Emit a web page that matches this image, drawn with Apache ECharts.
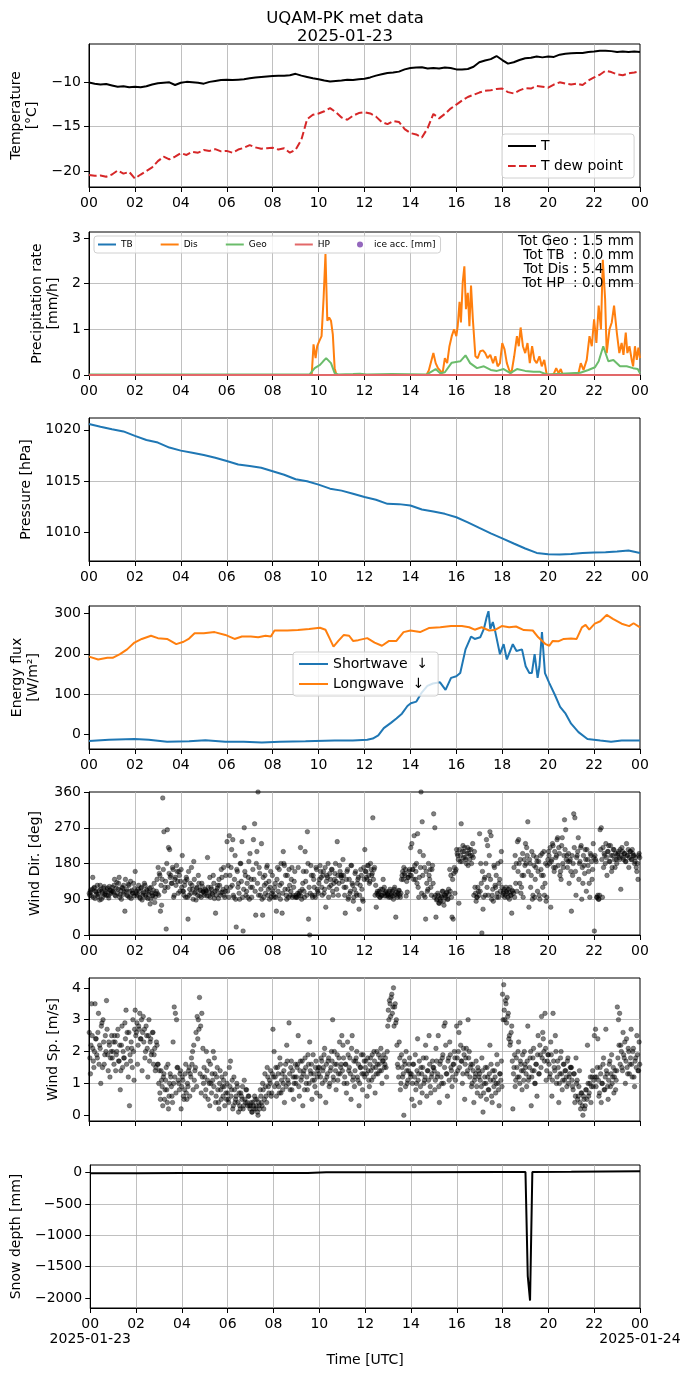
<!DOCTYPE html>
<html>
<head>
<meta charset="utf-8">
<title>UQAM-PK met data</title>
<script src="https://cdn.jsdelivr.net/npm/echarts@6.0.0/dist/echarts.min.js"></script>
<style>
  html, body { margin: 0; padding: 0; background: #fff; }
  #chart { width: 690px; height: 1377px; }
</style>
</head>
<body>
<div id="chart"></div>
<script>
// ---- data ----
var dayLabels = ['2025-01-23', '2025-01-24'];

// temperature every 15 min [°C]
var tempStep = 0.25;
var airTemp = [
  -10.07, -10.2, -10.3, -10.25,
  -10.4, -10.55, -10.5, -10.6,
  -10.55, -10.6, -10.5, -10.3,
  -10.15, -10.1, -10.05, -10.35,
  -10.1, -10.0, -10.05, -10.1,
  -10.2, -10.0, -9.9, -9.8,
  -9.75, -9.8, -9.75, -9.7,
  -9.6, -9.5, -9.45, -9.4,
  -9.35, -9.3, -9.3, -9.25,
  -9.1, -9.3, -9.45, -9.6,
  -9.7, -9.85, -9.95, -9.9,
  -9.85, -9.75, -9.8, -9.7,
  -9.65, -9.5, -9.3, -9.15,
  -9.0, -8.95, -8.85, -8.6,
  -8.45, -8.4, -8.35, -8.5,
  -8.45, -8.5, -8.4, -8.45,
  -8.6, -8.6, -8.55, -8.3,
  -7.8, -7.6, -7.45, -7.1,
  -7.55, -7.95, -7.8, -7.55,
  -7.35, -7.3, -7.15, -7.25,
  -7.15, -7.2, -6.95, -6.85,
  -6.8, -6.75, -6.75, -6.65,
  -6.6, -6.5, -6.5, -6.55,
  -6.65, -6.6, -6.65, -6.6,
  -6.65
];
var dewPoint = [
  -20.45, -20.55, -20.5, -20.65,
  -20.4, -19.95, -20.3, -20.1,
  -20.85, -20.4, -20.0, -19.6,
  -18.9, -18.4, -18.7, -18.4,
  -18.0, -18.2, -17.85, -17.95,
  -17.65, -17.75, -17.55, -17.8,
  -17.75, -17.95, -17.6, -17.4,
  -17.1, -17.35, -17.5, -17.45,
  -17.4, -17.6, -17.45, -17.95,
  -17.6, -16.5, -14.2, -13.7,
  -13.55, -13.3, -12.95, -13.4,
  -14.0, -14.25, -13.8, -13.5,
  -13.4, -13.55, -13.9, -14.5,
  -14.75, -14.4, -14.5, -15.3,
  -15.75, -15.9, -16.25, -15.2,
  -13.6, -14.1, -13.6, -13.0,
  -12.55, -12.1, -11.7, -11.45,
  -11.2, -11.0, -10.95, -10.8,
  -10.75, -11.15, -11.3, -10.95,
  -10.7, -10.75, -10.45, -10.55,
  -10.65, -10.3, -10.05, -10.2,
  -10.3, -10.2, -10.35, -9.85,
  -9.5, -9.2, -8.75, -8.9,
  -9.15, -9.25, -9.05, -8.95,
  -8.8
];

// precipitation rate [hour, mm/h]
var tbRate = [[0, 0], [24, 0]];
var hpRate = [[0, 0], [24, 0]];
var iceAcc = [];
var disRate = [
  [0, 0], [9.7, 0], [9.78, 0.67], [9.87, 0.37], [9.94, 0.63], [10.03, 0.74], [10.13, 0.85],
  [10.22, 1.7], [10.3, 2.65], [10.38, 1.19], [10.46, 1.26], [10.54, 1.19], [10.62, 0.89],
  [10.7, 0.15], [10.78, 0], [14.7, 0], [14.8, 0.1], [15.0, 0.48], [15.1, 0.26], [15.2, 0.15],
  [15.4, 0.04], [15.5, 0.37], [15.6, 0.26], [15.7, 0.63], [15.8, 0.85], [15.9, 1.0], [16.0, 0.85],
  [16.06, 1.07], [16.14, 1.6], [16.2, 1.15], [16.28, 2.04], [16.35, 2.38], [16.42, 1.44],
  [16.5, 1.8], [16.57, 1.07], [16.64, 1.96], [16.72, 1.22], [16.83, 0.41], [16.93, 0.37],
  [17.04, 0.52], [17.16, 0.54], [17.26, 0.48], [17.36, 0.37], [17.48, 0.44], [17.6, 0.26],
  [17.7, 0.41], [17.8, 0.19], [17.9, 0.26], [18.0, 0.7], [18.1, 0.56], [18.2, 0.26], [18.3, 0.11],
  [18.4, 0.04], [18.52, 0.41], [18.64, 0.85], [18.72, 0.63], [18.8, 1.04], [18.9, 0.63],
  [19.0, 0.48], [19.1, 0.7], [19.2, 0.26], [19.3, 0.63], [19.4, 0.33], [19.5, 0.26], [19.62, 0.41],
  [19.72, 0.19], [19.83, 0.33], [19.94, 0], [20.23, 0.01], [20.35, 0.15], [20.45, 0.04],
  [20.55, 0.13], [20.64, 0], [21.32, 0.04], [21.42, 0.26], [21.54, 0.11], [21.68, 0.33],
  [21.8, 0.85], [21.9, 0.63], [22.0, 1.22], [22.1, 0.7], [22.2, 1.52], [22.3, 1.0], [22.38, 2.52],
  [22.48, 1.67], [22.55, 0.48], [22.67, 1.0], [22.77, 1.15], [22.87, 1.52], [22.99, 0.93],
  [23.1, 0.48], [23.2, 0.7], [23.28, 0.44], [23.38, 0.93], [23.45, 0.48], [23.54, 0.63],
  [23.64, 0.33], [23.7, 0.19], [23.78, 0.63], [23.86, 0.33], [23.93, 0.6], [24.0, 0.37]
];
var geoRate = [
  [0, 0.01], [9.6, 0.01], [9.83, 0.15], [10.06, 0.22], [10.2, 0.3], [10.33, 0.37], [10.54, 0.26],
  [10.7, 0.04], [10.86, 0.01], [11.5, 0.02], [11.8, 0.03], [12.1, 0.01], [13.2, 0.02], [14.7, 0.01],
  [15.1, 0.13], [15.3, 0.04], [15.5, 0.06], [15.8, 0.27], [16.17, 0.3], [16.4, 0.43], [16.6, 0.26],
  [16.9, 0.15], [17.2, 0.19], [17.5, 0.11], [17.77, 0.09], [18.06, 0.13], [18.35, 0.04],
  [18.64, 0.13], [19.0, 0.09], [19.36, 0.07], [19.65, 0.07], [19.94, 0.01], [21.4, 0.05],
  [21.75, 0.11], [22.04, 0.17], [22.2, 0.3], [22.4, 0.63], [22.62, 0.3], [22.84, 0.33],
  [23.13, 0.19], [23.42, 0.19], [23.7, 0.15], [23.9, 0.13], [24, 0.04]
];
var precipTotals = ['Tot Geo : 1.5 mm', 'Tot TB  : 0.0 mm', 'Tot Dis : 5.4 mm', 'Tot HP  : 0.0 mm'];

// pressure every 30 min [hPa]
var pressStep = 0.5;
var pressure = [
  1020.56, 1020.3, 1020.05, 1019.84, 1019.4, 1019.0, 1018.75, 1018.26,
  1017.96, 1017.76, 1017.53, 1017.27, 1016.94, 1016.6, 1016.45, 1016.28,
  1015.95, 1015.6, 1015.16, 1014.97, 1014.64, 1014.24, 1014.05, 1013.75,
  1013.42, 1013.16, 1012.76, 1012.73, 1012.6, 1012.2, 1012.0, 1011.78,
  1011.45, 1010.95, 1010.4, 1009.87, 1009.38, 1008.88, 1008.39, 1007.96,
  1007.83, 1007.8, 1007.86, 1007.96, 1008.0, 1008.03, 1008.1, 1008.19,
  1007.96
];

// energy flux [hour, W/m2]
var shortwave = [
  [0, -17], [0.87, -14], [1.98, -12], [2.6, -14], [3.4, -19], [4.36, -18], [5.07, -15], [5.94, -19],
  [6.74, -19], [7.53, -21], [8.32, -19], [9.43, -18], [10.7, -16], [11.49, -16], [12.12, -14],
  [12.36, -11], [12.6, -3], [12.84, 15], [13.15, 28], [13.39, 39], [13.63, 51], [13.87, 70],
  [14.02, 77], [14.26, 81], [14.5, 104], [14.74, 120], [14.98, 126], [15.29, 129], [15.53, 110],
  [15.77, 140], [16.0, 144], [16.17, 152], [16.4, 211], [16.64, 243], [16.8, 237], [17.04, 241],
  [17.2, 262], [17.32, 291], [17.4, 306], [17.48, 262], [17.59, 279], [17.7, 254], [17.9, 199],
  [18.06, 224], [18.2, 186], [18.46, 224], [18.62, 207], [18.86, 211], [19.02, 169], [19.18, 152],
  [19.29, 152], [19.41, 199], [19.54, 140], [19.62, 169], [19.73, 254], [19.86, 152], [20.05, 127],
  [20.29, 98], [20.52, 68], [20.76, 51], [21.0, 26], [21.32, 5], [21.71, -12], [22.27, -16],
  [22.74, -19], [23.2, -16], [24, -16]
];
var longwave = [
  [0, 193], [0.4, 186], [0.8, 190], [1.03, 190], [1.35, 199], [1.66, 211], [1.98, 228], [2.3, 237],
  [2.7, 245], [3.0, 239], [3.4, 237], [3.8, 224], [4.12, 230], [4.36, 238], [4.6, 251], [5.0, 251],
  [5.47, 254], [5.94, 247], [6.34, 237], [6.66, 243], [7.05, 243], [7.37, 241], [7.69, 245],
  [7.92, 243], [8.08, 258], [8.64, 258], [9.1, 259], [9.59, 262], [10.06, 265], [10.3, 260],
  [10.46, 241], [10.65, 218], [10.86, 232], [11.1, 247], [11.33, 245], [11.5, 232], [11.73, 234],
  [12.12, 239], [12.44, 228], [12.76, 220], [13.07, 232], [13.39, 232], [13.7, 254], [14.0, 258],
  [14.42, 254], [14.8, 264], [15.3, 266], [15.77, 269], [16.24, 269], [16.56, 266], [16.8, 260],
  [17.1, 266], [17.43, 258], [17.67, 259], [17.98, 269], [18.3, 266], [18.6, 268], [18.94, 259],
  [19.33, 258], [19.57, 241], [19.89, 224], [20.05, 220], [20.2, 232], [20.44, 231], [20.68, 237],
  [21.0, 238], [21.24, 237], [21.47, 266], [21.63, 272], [21.79, 260], [22.03, 275], [22.27, 281],
  [22.55, 297], [22.82, 287], [23.2, 275], [23.53, 269], [23.72, 276], [24, 266]
];

// wind direction [deg], 20 samples per hour (one row per hour), two interleaved sets
var windDir = [
  [105,112,98,145,118,92,108,125,102,88,115,110,96,122,104,100,118,93,113,107],
  [120,108,140,98,132,115,145,102,90,118,125,60,110,100,128,95,135,112,105,98],
  [160,110,102,125,95,118,88,105,130,100,115,92,108,78,120,98,112,82,104,140],
  [170,155,60,75,345,260,120,15,265,220,215,150,130,165,100,145,175,135,160,110],
  [165,200,110,125,95,140,40,100,130,170,115,185,105,88,120,150,98,112,130,108],
  [100,115,110,195,98,145,120,105,150,92,55,112,125,140,100,165,108,170,95,150],
  [235,175,250,120,215,240,95,200,20,160,130,90,180,235,10,270,150,110,95,185],
  [205,140,120,240,280,50,210,360,170,100,230,50,95,150,130,175,115,90,160,105],
  [110,95,130,60,170,100,125,180,55,210,175,150,90,115,165,100,140,95,120,160],
  [100,95,170,105,220,90,130,110,210,160,260,40,0,175,100,150,120,95,165,110],
  [130,175,145,100,160,115,70,150,180,120,140,165,110,130,155,135,235,100,175,150],
  [150,190,120,55,140,165,95,105,175,130,85,115,160,100,140,65,125,150,90,170],
  [215,160,140,175,130,180,150,295,165,100,70,110,105,95,115,100,140,120,108,98],
  [105,95,115,100,110,90,120,45,100,105,112,95,140,160,170,150,98,108,145,165],
  [220,230,165,250,140,180,255,95,210,360,285,200,170,40,130,115,150,165,100,175],
  [305,270,45,90,100,80,85,95,110,75,100,105,90,115,165,150,45,40,170,160],
  [215,200,80,185,280,210,195,220,190,205,175,215,200,180,230,100,120,85,95,110],
  [255,180,5,65,140,100,240,225,150,260,250,100,85,170,120,95,180,130,110,210],
  [100,110,95,120,105,115,90,100,55,110,170,200,180,235,240,130,105,150,95,190],
  [230,220,285,70,180,150,90,200,95,170,185,160,100,200,150,120,210,130,85,175],
  [210,180,70,190,225,160,170,200,245,220,150,140,245,170,290,265,200,185,130,190],
  [60,150,305,295,100,200,245,180,220,90,130,175,215,110,190,160,95,200,140,230],
  [10,190,95,100,90,265,270,95,170,200,230,150,210,185,225,160,200,215,170,190],
  [200,210,190,115,220,195,205,185,230,200,170,210,190,215,200,180,195,160,140,205]
];
var windDirB = [
  [100,108,115,95,120,110,103,97,112,125,90,106,118,101,109,114,99,122,104,111],
  [110,125,100,118,105,130,95,112,120,102,108,140,115,98,125,110,92,105,130,117],
  [105,98,115,110,92,120,100,108,125,95,112,102,118,90,106,100,130,96,110,104],
  [100,150,125,140,165,110,135,180,120,155,145,130,170,95,140,125,160,105,150,135],
  [120,110,100,135,145,95,160,115,105,125,90,140,108,118,100,130,112,95,122,110],
  [105,112,98,120,108,95,115,102,130,110,100,118,92,125,106,145,115,100,110,120],
  [110,95,150,170,125,100,140,90,165,120,105,180,135,95,115,160,100,130,145,90],
  [120,95,165,140,110,180,130,100,155,115,90,145,125,105,170,100,135,120,95,150],
  [100,120,95,140,110,165,90,130,105,180,115,100,150,95,125,110,170,100,135,95],
  [95,105,100,110,98,115,160,95,135,100,180,120,105,150,95,140,100,170,115,105],
  [140,160,120,150,105,170,135,145,95,155,125,165,100,140,180,115,150,130,160,145],
  [135,150,100,120,160,90,140,110,175,125,95,155,105,130,145,100,165,115,85,140],
  [160,145,175,150,135,165,155,140,170,125,105,100,110,95,100,115,105,98,110,102],
  [100,110,95,105,98,115,102,108,95,112,100,105,150,140,155,165,135,145,160,150],
  [150,165,140,175,160,130,120,145,170,105,150,100,95,160,110,180,140,120,165,130],
  [95,100,88,105,80,92,98,110,85,100,95,108,90,102,110,95,140,155,105,165],
  [205,190,215,200,185,225,210,195,180,220,205,190,215,200,195,210,105,95,120,100],
  [110,130,160,95,145,180,120,100,200,140,90,115,175,125,150,105,95,140,185,120],
  [105,115,100,110,95,108,120,100,112,105,95,130,110,160,180,190,120,205,150,175],
  [180,200,160,190,120,210,100,175,140,195,110,185,90,165,205,150,100,180,95,190],
  [200,220,185,230,170,210,195,240,175,205,160,225,180,200,215,190,170,205,185,160],
  [200,180,220,160,195,210,140,185,225,170,200,155,190,215,175,130,205,185,165,195],
  [200,185,95,90,100,215,190,220,205,180,195,210,225,185,200,170,215,190,205,180],
  [205,195,215,200,210,190,205,185,200,215,195,210,190,205,200,185,170,180,200,195]
];

// wind speed [m/s], same layout
var windSpeed = [
  [2.6,1.3,3.5,2.1,1.5,3.5,2.4,1.8,3.2,2.2,1.0,2.9,3.0,1.6,2.5,3.6,1.9,2.3,1.2,2.0],
  [1.8,2.3,2.5,1.4,2.0,2.7,1.7,0.8,2.2,1.5,1.8,2.9,3.3,2.6,1.2,0.3,1.7,2.1,3.0,1.1],
  [3.3,2.6,1.6,2.8,3.2,2.4,1.4,3.1,2.7,2.0,2.5,1.2,3.0,2.3,1.9,2.6,1.6,2.1,1.5,2.2],
  [1.6,1.4,0.5,1.1,0.3,1.3,0.8,1.5,0.4,0.2,1.0,1.2,0.6,2.3,3.4,3.2,3.0,1.5,1.0,1.3],
  [0.2,1.2,0.6,0.8,1.6,0.5,0.9,1.5,1.3,1.8,2.0,2.2,1.4,2.6,3.1,3.0,3.7,2.8,3.2,2.1],
  [1.5,0.6,2.0,1.1,1.7,0.3,1.0,1.3,2.0,1.8,0.4,1.2,0.8,0.2,1.4,0.5,0.9,1.1,0.3,0.7],
  [1.0,0.5,1.5,1.7,0.8,0.2,1.2,0.4,0.6,0.9,0.1,0.3,0.7,0.5,0.2,1.1,0.4,0.8,0.3,0.6],
  [0.2,0.4,0.1,0.3,0.6,0.2,0.5,0.0,0.3,0.8,0.4,1.0,0.2,1.3,0.6,1.5,0.9,1.1,1.4,0.7],
  [2.7,2.0,1.2,0.6,1.5,0.9,1.8,0.7,1.3,1.0,0.4,1.6,2.2,1.1,2.9,0.8,1.7,1.4,0.5,1.2],
  [1.0,1.5,2.5,0.6,1.7,1.2,0.3,1.4,1.8,1.0,0.8,1.6,2.3,1.3,0.5,1.9,1.1,1.5,0.7,1.4],
  [1.3,0.6,1.8,1.0,1.5,2.1,0.4,1.2,1.7,0.9,1.4,2.0,3.0,1.1,1.6,0.8,1.9,1.3,2.3,1.5],
  [2.5,2.2,1.0,1.6,0.7,2.3,1.4,1.8,0.5,2.5,1.2,0.9,1.7,2.0,1.1,0.3,1.5,1.9,0.8,1.3],
  [1.2,1.7,0.6,1.4,0.9,1.8,1.1,1.5,2.0,0.7,1.3,1.6,1.9,1.4,2.1,1.0,1.7,1.5,1.8,1.2],
  [2.8,3.0,3.5,3.7,3.2,4.0,3.4,2.9,2.2,1.5,2.3,0.8,1.9,1.2,0.0,1.6,2.0,1.0,1.4,1.8],
  [1.2,0.5,1.6,0.3,1.9,1.0,2.4,1.3,0.4,1.5,0.7,1.8,1.1,2.2,0.6,1.4,2.5,0.9,1.2,1.7],
  [1.5,0.8,2.1,1.2,2.5,0.4,1.7,1.0,1.9,2.8,2.9,1.3,0.6,1.8,2.3,1.5,0.9,1.6,2.0,1.1],
  [2.8,1.4,2.6,2.9,1.7,1.0,2.1,0.5,1.8,1.3,3.0,2.0,1.5,0.9,1.6,0.4,1.2,1.7,0.7,1.4],
  [1.3,0.6,1.8,0.1,1.0,1.5,0.5,1.2,0.8,2.2,1.6,0.4,1.1,1.4,0.7,1.9,1.0,0.3,1.3,1.7],
  [3.8,4.1,3.0,3.5,3.7,3.2,2.5,2.3,2.8,0.2,1.5,0.9,1.8,1.2,2.3,1.0,1.6,0.8,1.4,2.0],
  [1.5,0.9,2.8,1.2,1.8,0.3,1.4,2.1,1.0,1.6,0.6,2.5,1.3,1.9,3.1,2.6,2.0,3.2,1.1,1.7],
  [1.9,1.2,2.3,0.6,3.2,1.5,2.5,1.0,1.7,0.4,1.3,2.0,0.8,1.6,1.1,1.4,0.9,1.8,1.2,1.5],
  [1.5,0.9,1.3,0.4,1.8,1.1,0.6,1.4,0.2,0.7,0.0,0.5,0.3,0.8,2.2,0.6,1.0,0.4,1.2,0.9],
  [2.5,2.7,1.2,2.4,0.6,1.5,0.4,1.0,1.8,0.8,2.7,1.3,0.5,1.6,0.9,1.9,1.2,0.7,1.4,1.1],
  [3.4,3.0,3.2,2.2,1.5,2.6,1.8,1.0,2.4,1.3,2.0,1.6,2.7,1.2,2.1,0.9,1.8,2.5,1.4,2.3]
];
var windSpeedB = [
  [1.8,2.2,2.5,1.7,2.0,2.4,1.9,2.6,1.6,2.1,2.8,1.5,2.3,1.9,2.0,2.7,1.4,2.2,1.8,2.5],
  [2.0,1.6,2.3,1.9,2.5,1.7,2.2,1.4,2.8,2.0,1.8,2.4,1.6,2.1,2.6,1.9,2.3,1.5,2.0,2.7],
  [2.5,2.9,2.2,2.7,2.4,3.0,2.6,2.3,1.8,2.8,2.1,2.5,1.7,2.4,2.0,2.6,1.9,1.4,2.3,1.6],
  [1.0,0.7,1.4,0.9,1.2,0.5,1.1,0.8,1.6,0.6,1.3,0.9,0.4,1.0,1.2,0.7,1.5,1.1,0.8,1.4],
  [0.9,1.1,0.5,1.3,0.7,1.0,1.4,0.6,1.2,1.6,0.8,1.1,1.5,0.9,2.4,2.7,1.3,0.7,1.2,1.0],
  [1.2,0.8,1.4,0.5,1.0,1.6,0.7,1.1,0.9,1.3,0.6,1.5,0.4,1.0,0.8,1.2,0.6,0.9,1.3,0.5],
  [0.7,0.4,0.9,0.6,1.1,0.3,0.8,0.5,1.0,0.4,0.7,0.2,0.6,0.9,0.3,0.5,0.8,0.4,0.6,0.3],
  [0.3,0.1,0.4,0.2,0.5,0.3,0.1,0.4,0.2,0.6,0.3,0.8,0.5,0.9,0.4,1.2,0.7,1.0,0.6,1.3],
  [1.2,0.9,1.5,1.0,1.3,0.7,1.6,1.1,0.8,1.4,1.2,0.9,1.7,1.0,1.3,1.5,0.8,1.2,1.0,1.6],
  [1.2,1.6,0.9,1.4,1.1,1.7,1.3,0.8,1.5,1.2,1.9,1.0,1.4,1.6,1.1,1.3,0.9,1.7,1.2,1.5],
  [1.5,1.2,1.7,1.4,1.9,1.1,1.6,1.3,1.8,1.0,1.5,1.7,1.2,2.0,1.4,1.6,1.1,1.8,1.3,1.6],
  [1.4,1.8,1.2,1.6,1.0,1.9,1.5,1.3,2.1,1.1,1.7,1.4,1.8,1.2,1.6,1.0,1.5,1.3,1.9,1.7],
  [1.5,1.3,1.8,1.1,1.6,1.4,1.9,1.2,1.7,1.5,2.0,1.3,1.6,1.8,1.4,1.7,1.9,1.6,1.5,2.0],
  [3.3,3.6,3.1,3.8,3.4,2.8,3.5,3.0,1.6,1.2,1.8,1.0,1.5,1.3,1.7,0.9,1.4,1.1,1.6,1.3],
  [1.3,1.0,1.6,1.2,0.8,1.4,1.1,1.7,0.9,1.3,1.5,1.0,1.2,1.8,1.4,1.1,1.6,0.7,1.3,1.5],
  [1.4,1.1,1.7,1.3,0.9,1.6,1.2,1.8,1.0,1.5,2.2,1.3,1.7,1.1,1.9,1.4,1.2,1.6,1.8,1.3],
  [1.8,2.0,1.5,2.2,1.7,1.3,1.9,1.6,2.1,1.4,1.8,1.2,1.6,1.0,1.4,1.1,1.3,0.9,1.5,1.2],
  [1.1,0.9,1.4,0.7,1.2,1.0,1.5,0.8,1.3,1.1,0.6,1.4,0.9,1.2,1.0,1.6,0.8,1.3,1.1,0.9],
  [3.0,3.3,3.6,2.9,3.1,2.4,2.2,2.6,1.7,1.3,1.9,1.1,1.5,2.0,1.2,1.7,1.4,1.9,1.1,1.6],
  [1.3,1.7,1.1,1.5,2.0,1.2,1.8,1.4,1.0,1.6,1.9,1.3,2.2,1.5,1.8,2.4,1.7,2.1,1.4,1.9],
  [1.6,1.3,1.9,1.1,1.7,1.4,2.0,1.2,1.5,1.0,1.8,1.3,1.1,1.6,1.4,1.2,1.7,1.0,1.3,1.5],
  [1.1,0.8,1.3,0.6,1.0,0.5,0.9,0.4,0.7,0.3,0.6,0.2,0.8,0.5,1.0,0.7,1.2,0.9,1.4,1.1],
  [1.2,0.9,1.5,1.1,0.7,1.3,1.0,1.6,0.8,1.2,1.4,0.9,1.1,1.7,1.3,1.0,1.5,1.2,0.8,1.4],
  [1.8,2.2,1.6,2.0,1.4,1.9,2.3,1.7,1.5,2.1,1.3,1.8,1.6,2.0,1.2,1.7,1.5,1.9,1.4,1.6]
];

// snow depth [hour, mm]
var snowDepth = [
  [0, -8], [2, -8], [4, -7], [6, -6], [8, -6], [9.5, -5], [10.3, 5], [11, 8], [14, 8], [18, 9],
  [19.0, 9], [19.1, -1650], [19.2, -2040], [19.3, 10], [21, 13], [24, 22]
];

// y tick values per panel
var tempTicks = [-20, -15, -10];
var precipTicks = [0, 1, 2, 3];
var pressTicks = [1010, 1015, 1020];
var fluxTicks = [0, 100, 200, 300];
var dirTicks = [0, 90, 180, 270, 360];
var speedTicks = [0, 1, 2, 3, 4];
var snowTicks = [-2000, -1500, -1000, -500, 0];

// ---- layout ----
var FONT = 'DejaVu Sans';
var panelTops = [44, 232, 418, 606, 792, 978, 1165];
var panelHeight = 143;

function stepped(vals, step) {
  return vals.map(function (v, i) { return [i * step, v]; });
}
function perHour(rows, offset) {
  var out = [];
  rows.forEach(function (r, h) {
    r.forEach(function (v, k) { out.push([h + (k + offset) / r.length, v]); });
  });
  return out;
}
function pad2(h) {
  h = h % 24;
  return (h < 10 ? '0' : '') + h;
}
function minus(v) {
  return String(v).replace('-', '\u2212');
}

function makeGrid(i) {
  return {
    left: 89, right: 50, top: panelTops[i], height: panelHeight,
    show: true, borderColor: '#000', borderWidth: 1, backgroundColor: 'transparent'
  };
}
function makeX(i, showLabels) {
  return {
    type: 'value', gridIndex: i, min: 0, max: 24, interval: 2,
    axisLine: { show: true, onZero: false, lineStyle: { color: '#000', width: 1 } },
    axisTick: { show: true, length: 5, lineStyle: { color: '#000', width: 1 } },
    axisLabel: {
      show: showLabels, margin: 8, color: '#000', fontSize: 14, fontFamily: FONT,
      lineHeight: 17, formatter: pad2, showMinLabel: true, showMaxLabel: true
    },
    splitLine: { show: true, showMinLine: false, showMaxLine: false, lineStyle: { color: '#b0b0b0', width: 0.8 } }
  };
}
function makeY(i, min, max, ticks, name, gap) {
  return {
    type: 'value', gridIndex: i, min: min, max: max,
    axisLine: { show: true, onZero: false, lineStyle: { color: '#000', width: 1 } },
    axisTick: { show: true, length: 5, customValues: ticks, lineStyle: { color: '#000', width: 1 } },
    axisLabel: { customValues: ticks, margin: 8, color: '#000', fontSize: 14, fontFamily: FONT, formatter: minus },
    splitLine: { show: true, showMinLine: false, showMaxLine: false, lineStyle: { color: '#b0b0b0', width: 0.8 } },
    name: name, nameLocation: 'middle', nameRotate: 90, nameGap: gap,
    nameTextStyle: { color: '#000', fontSize: 14, fontFamily: FONT, lineHeight: 16 }
  };
}
function lineSeries(name, i, data, color, dash) {
  var s = {
    name: name, type: 'line', xAxisIndex: i, yAxisIndex: i, data: data,
    symbol: 'none', showSymbol: false, smooth: false,
    lineStyle: { color: color, width: 2 }, itemStyle: { color: color },
    emphasis: { disabled: true }
  };
  if (dash) { s.lineStyle.type = dash; }
  return s;
}
function dotSeries(name, i, data, color, edge) {
  return {
    name: name, type: 'scatter', xAxisIndex: i, yAxisIndex: i, data: data,
    symbol: 'circle', symbolSize: 4.6,
    itemStyle: { color: color, opacity: edge ? 0.5 : 1, borderColor: edge || color, borderWidth: edge ? 0.6 : 0 },
    emphasis: { disabled: true }
  };
}
// legend entry showing only the line (no marker)
function lineOnly(name) {
  return { name: name, itemStyle: { opacity: 0 } };
}

var legendText = { color: '#000', fontSize: 14, fontFamily: FONT };
var legendBox = {
  borderColor: '#d0d0d0', borderWidth: 1, borderRadius: 3,
  backgroundColor: 'rgba(255,255,255,0.8)'
};

var totalsText = precipTotals.map(function (t, i) {
  return {
    type: 'text', x: 634, y: 234 + i * 14, z: 10,
    style: { text: t, align: 'right', verticalAlign: 'top', font: '13.5px "DejaVu Sans"', fill: '#000' }
  };
});

var chart = echarts.init(document.getElementById('chart'), null, { renderer: 'canvas' });

var option = {
  animation: false,
  backgroundColor: '#fff',
  title: {
    text: 'UQAM-PK met data', subtext: '2025-01-23',
    left: 'center', top: 5, itemGap: 1,
    textStyle: { color: '#000', fontSize: 16.5, fontWeight: 'normal', fontFamily: FONT },
    subtextStyle: { color: '#000', fontSize: 16.5, fontFamily: FONT }
  },
  grid: [0, 1, 2, 3, 4, 5, 6].map(makeGrid),
  xAxis: [
    makeX(0, true), makeX(1, true), makeX(2, true), makeX(3, true), makeX(4, true), makeX(5, false),
    Object.assign(makeX(6, true), {
      name: 'Time [UTC]', nameLocation: 'middle', nameGap: 45,
      nameTextStyle: { color: '#000', fontSize: 14, fontFamily: FONT }
    })
  ],
  yAxis: [
    makeY(0, -21.8, -5.75, tempTicks, 'Temperature\n[°C]', 37),
    makeY(1, 0, 3.13, precipTicks, 'Precipitation rate\n[mm/h]', 22),
    makeY(2, 1007.17, 1021.15, pressTicks, 'Pressure [hPa]', 50),
    makeY(3, -37, 319, fluxTicks, 'Energy flux\n[W/m\u00b2]', 48),
    makeY(4, 0, 360, dirTicks, 'Wind Dir. [deg]', 42),
    makeY(5, -0.18, 4.31, speedTicks, 'Wind Sp. [m/s]', 22),
    makeY(6, -2159, 122, snowTicks, 'Snow depth [mm]', 64)
  ],
  legend: [
    Object.assign({
      data: [lineOnly('T'), lineOnly('T dew point')], orient: 'vertical', left: 502, top: 134,
      itemWidth: 28, itemHeight: 10, itemGap: 6, padding: [5, 11, 5, 5],
      textStyle: legendText
    }, legendBox),
    Object.assign({
      data: [lineOnly('TB'), lineOnly('Dis'), lineOnly('Geo'), lineOnly('HP'), { name: 'ice acc. [mm]', icon: 'circle' }],
      orient: 'horizontal', left: 94, top: 236,
      itemWidth: 18, itemHeight: 6, itemGap: 27, padding: [4, 5, 4, 3],
      textStyle: { color: '#000', fontSize: 9, fontFamily: FONT }
    }, legendBox),
    Object.assign({
      data: [lineOnly('Shortwave  \u2193'), lineOnly('Longwave  \u2193')], orient: 'vertical', left: 293, top: 652,
      itemWidth: 29, itemHeight: 10, itemGap: 6, padding: [5, 10, 5, 5],
      textStyle: legendText
    }, legendBox)
  ],
  graphic: totalsText,
  series: [
    lineSeries('T', 0, stepped(airTemp, tempStep), '#000'),
    lineSeries('T dew point', 0, stepped(dewPoint, tempStep), '#d62728', [7.7, 3.3]),
    lineSeries('TB', 1, tbRate, '#1f77b4'),
    lineSeries('Dis', 1, disRate, '#ff7f0e'),
    lineSeries('Geo', 1, geoRate, '#6bbc6b'),
    lineSeries('HP', 1, hpRate, '#e26869'),
    dotSeries('ice acc. [mm]', 1, iceAcc, '#9467bd', null),
    lineSeries('Pressure', 2, stepped(pressure, pressStep), '#1f77b4'),
    lineSeries('Shortwave  \u2193', 3, shortwave, '#1f77b4'),
    lineSeries('Longwave  \u2193', 3, longwave, '#ff7f0e'),
    dotSeries('Wind Dir.', 4, perHour(windDir, 0.25).concat(perHour(windDirB, 0.75)), '#000', '#000'),
    dotSeries('Wind Sp.', 5, perHour(windSpeed, 0.25).concat(perHour(windSpeedB, 0.75)), '#000', '#000'),
    lineSeries('Snow depth', 6, snowDepth, '#000')
  ]
};

chart.setOption(option);

// date line under the first and last tick of the bottom axis, placed through the axis scale
var dateY = panelTops[6] + panelHeight + 31;
var dateText = [0, 24].map(function (h, i) {
  return {
    type: 'text', x: chart.convertToPixel({ xAxisIndex: 6 }, h), y: dateY, z: 10,
    style: { text: dayLabels[i], align: 'center', verticalAlign: 'middle', font: '14px "DejaVu Sans"', fill: '#000' }
  };
});
chart.setOption({ graphic: totalsText.concat(dateText) });
</script>
</body>
</html>
